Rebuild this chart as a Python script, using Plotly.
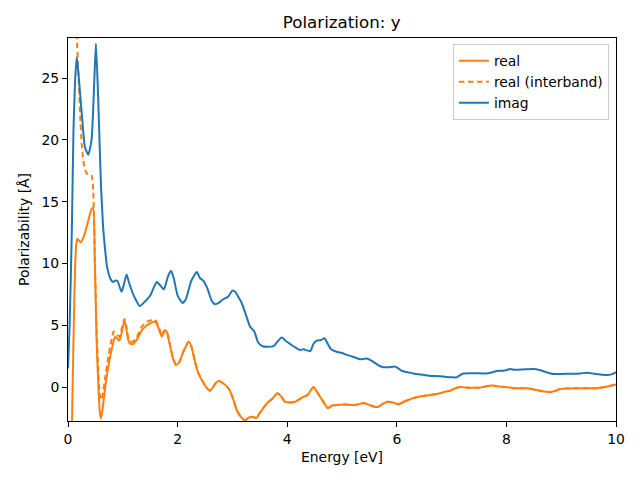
import plotly.graph_objects as go

# imag part
e_imag = [0.00, 0.03, 0.07, 0.10, 0.13, 0.16, 0.19, 0.25, 0.31, 0.37, 0.43, 0.48, 0.51, 0.55, 0.60,
          0.64, 0.68, 0.71, 0.77, 0.82, 0.86, 0.90, 0.95, 0.98, 1.02, 1.07, 1.11, 1.16, 1.22, 1.31,
          1.40, 1.50, 1.57, 1.62, 1.67, 1.75, 1.82, 1.88, 1.93, 2.00, 2.09, 2.15, 2.25, 2.35, 2.41,
          2.47, 2.55, 2.62, 2.68, 2.75, 2.83, 2.92, 3.00, 3.05, 3.12, 3.17, 3.25, 3.32, 3.40, 3.47,
          3.55, 3.63, 3.75, 3.81, 3.90, 3.98, 4.08, 4.15, 4.23, 4.30, 4.42, 4.48, 4.54, 4.62, 4.68,
          4.74, 4.80, 4.90, 5.00, 5.09, 5.20, 5.33, 5.45, 5.55, 5.65, 5.75, 5.85, 5.97, 6.03, 6.09,
          6.20, 6.30, 6.45, 6.61, 6.79, 6.90, 7.03, 7.09, 7.15, 7.21, 7.40, 7.64, 7.75, 7.82, 7.95,
          8.07, 8.15, 8.30, 8.49, 8.60, 8.70, 8.86, 9.00, 9.20, 9.35, 9.47, 9.60, 9.75, 9.83, 9.92, 10.0]
imag = [1.5, 5.0, 12.7, 20.8, 24.8, 26.7, 25.4, 22.2, 19.4, 18.8, 20.0, 24.8, 27.8, 23.5, 16.5,
        13.0, 11.0, 9.8, 8.8, 8.5, 8.6, 8.6, 8.0, 7.7, 8.3, 9.1, 8.5, 7.85, 7.2, 6.55,
        6.9, 7.4, 8.1, 8.5, 8.3, 7.9, 8.9, 9.4, 8.8, 7.4, 6.8, 7.1, 8.6, 9.3, 8.8,
        8.6, 7.9, 7.0, 6.7, 6.8, 7.1, 7.3, 7.8, 7.7, 7.2, 6.8, 5.8, 4.9, 4.5, 3.6,
        3.3, 3.25, 3.3, 3.6, 4.0, 3.7, 3.4, 3.2, 3.0, 3.05, 2.9, 3.5, 3.75, 3.8, 3.95,
        3.5, 3.05, 2.85, 2.75, 2.6, 2.45, 2.25, 2.3, 2.1, 1.8, 1.6, 1.6, 1.65, 1.5, 1.3,
        1.2, 1.1, 1.0, 0.9, 0.88, 0.82, 0.78, 0.78, 0.95, 1.1, 1.12, 1.1, 1.2, 1.3, 1.32,
        1.45, 1.4, 1.42, 1.45, 1.38, 1.24, 1.05, 1.06, 1.08, 1.1, 1.16, 1.08, 1.0, 0.97, 1.02, 1.2]

# real part
e_real = [0.05, 0.08, 0.11, 0.13, 0.15, 0.17, 0.23, 0.29, 0.36, 0.43, 0.46, 0.49, 0.52, 0.55, 0.58,
          0.60, 0.63, 0.68, 0.73, 0.77, 0.82, 0.86, 0.90, 0.94, 0.99, 1.03, 1.06, 1.10, 1.13, 1.19,
          1.25, 1.35, 1.44, 1.52, 1.59, 1.65, 1.71, 1.76, 1.80, 1.85, 1.91, 1.97,
          2.03, 2.10, 2.20, 2.25, 2.32, 2.38, 2.45, 2.52, 2.59, 2.65, 2.70, 2.76, 2.83, 2.93,
          3.00, 3.08, 3.15, 3.23, 3.29, 3.35, 3.44, 3.50, 3.58, 3.66, 3.74, 3.82, 3.88, 3.96,
          4.05, 4.14, 4.22, 4.29, 4.35, 4.39, 4.44, 4.48, 4.53, 4.59, 4.66, 4.74, 4.82, 4.90,
          5.05, 5.21, 5.30, 5.39, 5.50, 5.60, 5.66, 5.75, 5.84, 5.93, 6.03, 6.15, 6.30, 6.45,
          6.61, 6.79, 6.91, 6.97, 7.07, 7.15, 7.30, 7.52, 7.62, 7.73, 7.85, 8.00, 8.16, 8.37,
          8.50, 8.61, 8.80, 8.90, 8.98, 9.10, 9.34, 9.65, 9.80, 10.0]
real = [-10.0, -1.0, 6.0, 9.7, 11.5, 12.0, 11.7, 12.2, 13.3, 14.4, 14.5, 10.0, 4.0, 0.5, -2.0,
        -2.55, -1.8, 0.0, 1.5, 2.45, 3.5, 4.07, 3.9, 3.75, 4.6, 5.4, 4.8, 3.8, 3.5, 3.5,
        3.8, 4.6, 5.0, 5.2, 5.3, 4.8, 4.07, 4.5, 4.5, 3.6, 2.4, 1.78,
        2.0, 2.8, 3.67, 3.3, 2.0, 1.1, 0.5, 0.0, -0.3, 0.0, 0.35, 0.49, 0.3, -0.1,
        -0.8, -1.86, -2.4, -2.7, -2.5, -2.4, -2.5, -2.1, -1.6, -1.2, -0.9, -0.5, -0.7, -1.2,
        -1.25, -1.2, -1.0, -0.8, -0.7, -0.55, -0.2, 0.0, -0.3, -0.73, -1.2, -1.7, -1.5, -1.45,
        -1.42, -1.45, -1.4, -1.3, -1.45, -1.6, -1.6, -1.35, -1.2, -1.25, -1.4, -1.15, -0.9, -0.75,
        -0.65, -0.5, -0.35, -0.3, -0.1, 0.0, -0.05, -0.05, 0.05, 0.13, 0.05, 0.0, -0.1, -0.1,
        -0.2, -0.3, -0.42, -0.3, -0.16, -0.12, -0.1, -0.1, 0.0, 0.2]

# real (interband) part: low-energy part read separately, above 2 eV it follows the real curve
e_inter_head = [0.14, 0.16, 0.19, 0.22, 0.25, 0.28, 0.31, 0.37, 0.43, 0.46, 0.47, 0.49, 0.52, 0.55,
                0.58, 0.60, 0.63, 0.68, 0.73, 0.77, 0.80, 0.83, 0.86, 0.90, 0.94, 0.99, 1.03, 1.06,
                1.10, 1.13, 1.19, 1.25, 1.35, 1.44, 1.52, 1.59, 1.65, 1.71, 1.76, 1.80, 1.85, 1.91, 1.97]
inter_head = [33.0, 28.5, 25.4, 22.1, 19.7, 18.3, 17.6, 17.1, 17.1, 15.9, 14.5, 10.5, 5.0, 1.5,
              -0.6, -1.05, -0.7, 0.8, 2.3, 3.3, 3.9, 4.5, 4.4, 4.2, 4.05, 4.9, 5.5, 5.0,
              4.0, 3.67, 3.7, 4.0, 4.9, 5.3, 5.4, 5.45, 4.95, 4.2, 4.6, 4.55, 3.65, 2.45, 1.8]

tail = [(e, v) for e, v in zip(e_real, real) if e >= 2.03]
e_inter = e_inter_head + [t[0] for t in tail]
inter = inter_head + [t[1] for t in tail]

ORANGE = "#ff7f0e"
BLUE = "#1f77b4"
FONT = "DejaVu Sans"
FS = 13.9

fig = go.Figure()
fig.add_trace(go.Scatter(x=e_real, y=real, mode="lines", name="real",
                         line=dict(color=ORANGE, width=2, shape="spline", smoothing=0.5)))
fig.add_trace(go.Scatter(x=e_inter, y=inter, mode="lines", name="real (interband)",
                         line=dict(color=ORANGE, width=2, dash="5.5px,3.6px", shape="spline", smoothing=0.5)))
fig.add_trace(go.Scatter(x=e_imag, y=imag, mode="lines", name="imag",
                         line=dict(color=BLUE, width=2, shape="spline", smoothing=0.5)))

axis_common = dict(showgrid=False, zeroline=False, showline=True, linecolor="black", linewidth=1,
                   mirror=True, ticks="outside", ticklen=5, tickwidth=1, tickcolor="black",
                   tickfont=dict(family=FONT, size=FS, color="black"))

# page body has an 8px margin: figure is sized/placed so the plot area lands at x 68-616, y 38-421
fig.update_layout(
    width=632, height=472,
    margin=dict(l=60, r=24, t=30, b=59),
    paper_bgcolor="white", plot_bgcolor="white",
    font=dict(family=FONT, size=FS, color="black"),
    title=dict(text="Polarization: y", x=0.528, xanchor="center", y=0.970, yanchor="middle",
               font=dict(family=FONT, size=16.7, color="black")),
    xaxis=dict(range=[0, 10], tickvals=[0, 2, 4, 6, 8, 10],
               title=dict(text="Energy [eV]", font=dict(family=FONT, size=FS), standoff=6),
               **axis_common),
    yaxis=dict(range=[-2.75, 28.24], tickvals=[0, 5, 10, 15, 20, 25],
               title=dict(text="Polarizability [Å]", font=dict(family=FONT, size=FS), standoff=8),
               **axis_common),
    legend=dict(x=0.987, y=0.984, xanchor="right", yanchor="top", bgcolor="white",
                bordercolor="#cccccc", borderwidth=1, font=dict(family=FONT, size=FS),
                tracegroupgap=0, itemwidth=30),
    showlegend=True,
)

fig.write_html("out.html")
